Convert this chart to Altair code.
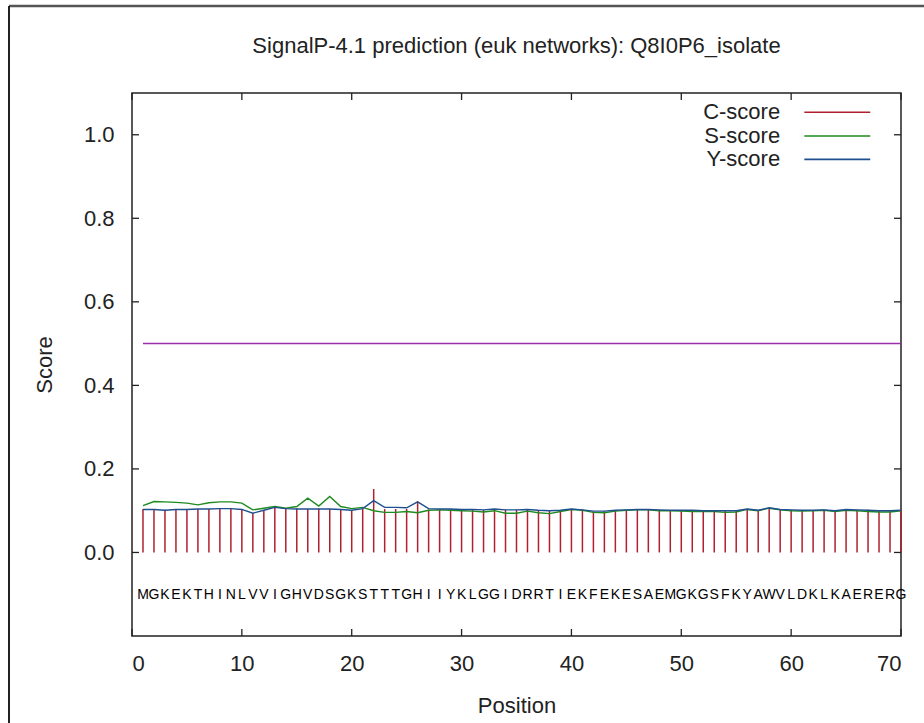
import altair as alt
import pandas as pd

# ---------------- data ----------------
positions = list(range(1, 71))
sequence = list("MGKEKTHINLVVIGHVDSGKSTTTGHIIYKLGGIDRRTIEKFEKESAEMGKGSFKYAWVLDKLKAERERG")

c_score = [0.104, 0.103, 0.102, 0.103, 0.103, 0.104, 0.104, 0.106, 0.105, 0.103,
           0.094, 0.101, 0.108, 0.106, 0.105, 0.104, 0.105, 0.104, 0.103, 0.101,
           0.104, 0.152, 0.104, 0.104, 0.104, 0.122, 0.103, 0.103, 0.104, 0.103,
           0.102, 0.102, 0.104, 0.103, 0.102, 0.103, 0.101, 0.100, 0.101, 0.104,
           0.102, 0.098, 0.099, 0.101, 0.102, 0.103, 0.103, 0.102, 0.101, 0.101,
           0.101, 0.100, 0.100, 0.099, 0.100, 0.104, 0.101, 0.106, 0.103, 0.102,
           0.101, 0.101, 0.101, 0.100, 0.103, 0.102, 0.102, 0.100, 0.100, 0.101]

s_score = [0.112, 0.122, 0.121, 0.120, 0.118, 0.114, 0.119, 0.121, 0.121, 0.118,
           0.102, 0.106, 0.110, 0.106, 0.110, 0.130, 0.111, 0.134, 0.110, 0.105,
           0.108, 0.100, 0.096, 0.096, 0.098, 0.095, 0.101, 0.102, 0.101, 0.100,
           0.099, 0.097, 0.100, 0.094, 0.094, 0.099, 0.095, 0.093, 0.098, 0.103,
           0.101, 0.096, 0.095, 0.099, 0.101, 0.102, 0.102, 0.100, 0.100, 0.099,
           0.098, 0.098, 0.098, 0.096, 0.097, 0.103, 0.100, 0.106, 0.102, 0.100,
           0.099, 0.100, 0.101, 0.098, 0.101, 0.100, 0.098, 0.097, 0.097, 0.100]

y_score = [0.103, 0.103, 0.101, 0.103, 0.103, 0.104, 0.104, 0.105, 0.105, 0.103,
           0.094, 0.101, 0.108, 0.105, 0.104, 0.104, 0.104, 0.104, 0.103, 0.101,
           0.105, 0.124, 0.108, 0.108, 0.107, 0.121, 0.105, 0.104, 0.104, 0.103,
           0.103, 0.102, 0.104, 0.102, 0.102, 0.103, 0.101, 0.100, 0.101, 0.104,
           0.102, 0.099, 0.099, 0.101, 0.102, 0.103, 0.103, 0.102, 0.101, 0.101,
           0.101, 0.100, 0.100, 0.100, 0.100, 0.104, 0.101, 0.107, 0.103, 0.102,
           0.101, 0.101, 0.102, 0.100, 0.103, 0.102, 0.101, 0.100, 0.100, 0.101]

x_ticks = [0, 10, 20, 30, 40, 50, 60, 70]
y_ticks = [0.0, 0.2, 0.4, 0.6, 0.8, 1.0]
series_names = ["C-score", "S-score", "Y-score"]
series_colors = ["#b0202e", "#1f8a1f", "#1f4f8f"]
threshold = 0.5
title_text = "SignalP-4.1 prediction (euk networks): Q8I0P6_isolate"

# ---------------- layout ----------------
W, H = 769, 543
PAD_L, PAD_T = 132, 93
FONT = "Liberation Sans"
TXT = "#222222"

xs = alt.Scale(domain=[0, 70], nice=False, zero=False)
ys = alt.Scale(domain=[-0.2, 1.1], nice=False, zero=False)
cs = alt.Scale(domain=series_names, range=series_colors)

df = pd.DataFrame({"pos": positions, "aa": sequence,
                   "C": c_score, "S": s_score, "Y": y_score})
long = pd.concat([
    pd.DataFrame({"pos": positions, "score": s_score, "series": "S-score"}),
    pd.DataFrame({"pos": positions, "score": y_score, "series": "Y-score"}),
])

xaxis = alt.Axis(values=x_ticks, title="Position", grid=False, domain=False,
                 ticks=False, labelPadding=17, titlePadding=21,
                 labelFontSize=22, titleFontSize=22, labelFont=FONT, titleFont=FONT,
                 labelColor=TXT, titleColor=TXT, titleFontWeight="normal")
yaxis = alt.Axis(values=y_ticks, title="Score", format=".1f", grid=False,
                 domain=False, ticks=False, labelPadding=18, titlePadding=27,
                 labelFontSize=22, titleFontSize=22, labelFont=FONT, titleFont=FONT,
                 labelColor=TXT, titleColor=TXT, titleFontWeight="normal")


def X(field):
    return alt.X(field, scale=xs, axis=xaxis)


def Y(field):
    return alt.Y(field, scale=ys, axis=yaxis)


base = alt.Chart(df)

sticks = base.mark_rule(strokeWidth=1.5, color=series_colors[0]).encode(
    x=X("pos:Q"),
    y=Y("C:Q"),
    y2=alt.datum(0),
)

lines = alt.Chart(long).mark_line(strokeWidth=1.4).encode(
    x=X("pos:Q"),
    y=Y("score:Q"),
    color=alt.Color("series:N", scale=cs, legend=None),
)

thr = alt.Chart(pd.DataFrame({"a": [positions[0]], "b": [positions[-1]], "t": [threshold]})).mark_rule(
    color="#9932a8", strokeWidth=1.5).encode(
    x=X("a:Q"),
    x2="b:Q",
    y=Y("t:Q"),
)

letters = base.transform_calculate(row="-0.103").mark_text(
    font=FONT, fontSize=14, color="#000000", baseline="middle").encode(
    x=X("pos:Q"),
    y=Y("row:Q"),
    text="aa:N",
)

# legend (gnuplot style: label left, line sample right)
leg = pd.DataFrame({"series": series_names})
leg["ly"] = [1.054, 0.997, 0.941]
leg["lx"] = 59.0
leg["l1"] = 61.2
leg["l2"] = 67.2
leg_text = alt.Chart(leg).mark_text(font=FONT, fontSize=22, color=TXT, align="right",
                                   baseline="middle").encode(
    x=X("lx:Q"),
    y=Y("ly:Q"),
    text="series:N",
)
leg_line = alt.Chart(leg).mark_rule(strokeWidth=1.6).encode(
    x=X("l1:Q"),
    x2="l2:Q",
    y=Y("ly:Q"),
    color=alt.Color("series:N", scale=cs, legend=None),
)

# gnuplot-style inward ticks on all four sides
xt = alt.Chart(pd.DataFrame({"v": x_ticks}))
yt = alt.Chart(pd.DataFrame({"v": y_ticks}))
tick_style = dict(color="#222222", strokeWidth=1.3)
tb = xt.mark_rule(**tick_style).encode(x=X("v:Q"), y=alt.value(H), y2=alt.value(H - 7))
tt = xt.mark_rule(**tick_style).encode(x=X("v:Q"), y=alt.value(0), y2=alt.value(7))
tl = yt.mark_rule(**tick_style).encode(y=Y("v:Q"), x=alt.value(0), x2=alt.value(7))
tr = yt.mark_rule(**tick_style).encode(y=Y("v:Q"), x=alt.value(W), x2=alt.value(W - 7))

# chart title drawn as a text mark above the plot frame
title = alt.Chart(pd.DataFrame({"t": [title_text]})).mark_text(
    font=FONT, fontSize=22, color=TXT, align="center", baseline="alphabetic").encode(
    x=alt.value(W / 2), y=alt.value(53 - PAD_T), text="t:N")

# outer picture frame (top and left edges)
frame_top = alt.Chart(pd.DataFrame({"k": [0]})).mark_rule(color="#555555", strokeWidth=2.5).encode(
    x=alt.value(9 - PAD_L), x2=alt.value(924 - PAD_L), y=alt.value(6 - PAD_T))
frame_left = alt.Chart(pd.DataFrame({"k": [0]})).mark_rule(color="#222222", strokeWidth=2).encode(
    x=alt.value(9 - PAD_L), y=alt.value(6 - PAD_T), y2=alt.value(723 - PAD_T))

chart = alt.layer(
    thr, sticks, lines, letters, leg_text, leg_line, tb, tt, tl, tr, title, frame_top, frame_left
).properties(
    width=W, height=H,
    autosize=alt.AutoSizeParams(type="none"),
    padding={"left": PAD_L, "top": PAD_T, "right": 924 - PAD_L - W, "bottom": 723 - PAD_T - H},
    background="white",
).configure_view(stroke="#222222", strokeWidth=1.5)

chart.save("out.html", embed_options={"renderer": "svg", "actions": False})
